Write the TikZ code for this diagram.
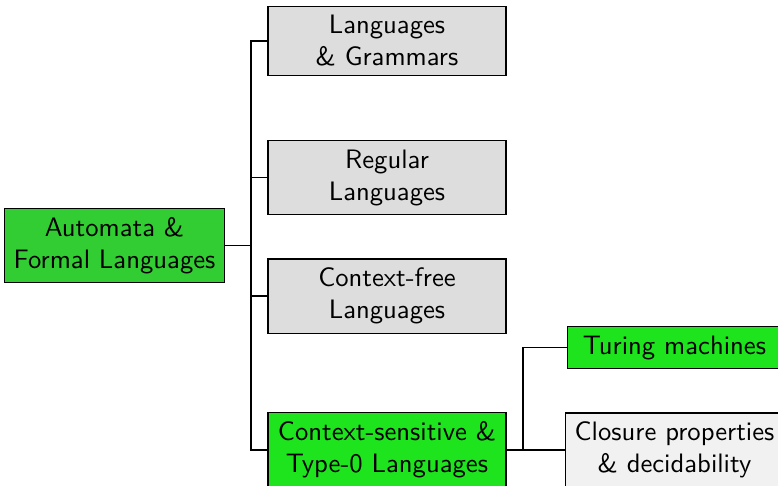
\documentclass[tikz,border=0pt]{standalone}
\renewcommand{\familydefault}{\sfdefault}
\definecolor{rootgreen}{RGB}{50,205,50}
\definecolor{hotgreen}{RGB}{30,228,30}
\definecolor{topicgray}{RGB}{221,221,221}
\definecolor{palegray}{RGB}{241,241,241}
\tikzset{
	chapter/.style={draw, align=center, inner sep=0.333em},
	rootbox/.style={chapter, fill=rootgreen, minimum width=80.6pt},
	topic/.style={chapter, fill=topicgray, minimum width=89.25pt},
	hottopic/.style={chapter, fill=hotgreen, minimum width=89.25pt},
	subtopic/.style={chapter, minimum width=80.6pt}
}
\begin{document}
\begin{tikzpicture}[x=0.375pt,y=-0.375pt]
		\useasboundingbox (0,0) rectangle (778,485);
		
		\node[rootbox] (automata) at (114.5,245.5) {Automata \&\\Formal Languages};
		
		\node[topic] (grammars) at (387,41) {Languages\\\& Grammars};
		\node[topic] (regular) at (387,177.5) {Regular\\Languages};
		\node[topic] (contextfree) at (387,296) {Context-free\\Languages};
		\node[hottopic] (typezero) at (387,450) {Context-sensitive \&\\Type-0 Languages};
		
		\node[subtopic, fill=hotgreen] (turing) at (674.5,347.5) {Turing machines};
		\node[subtopic, fill=palegray] (closure) at (674.5,450) {Closure properties\\\& decidability};
		
		\coordinate (fork) at (251,245.5);
		\coordinate (subfork) at (523,450);
		
		\draw (automata.east) -- (fork);
		\foreach \t in {grammars,regular,contextfree,typezero}
			\draw (fork) |- (\t.west);
		\draw (typezero.east) -- (subfork);
		\foreach \t in {turing,closure}
			\draw (subfork) |- (\t.west);
			
		\end{tikzpicture}
\end{document}
